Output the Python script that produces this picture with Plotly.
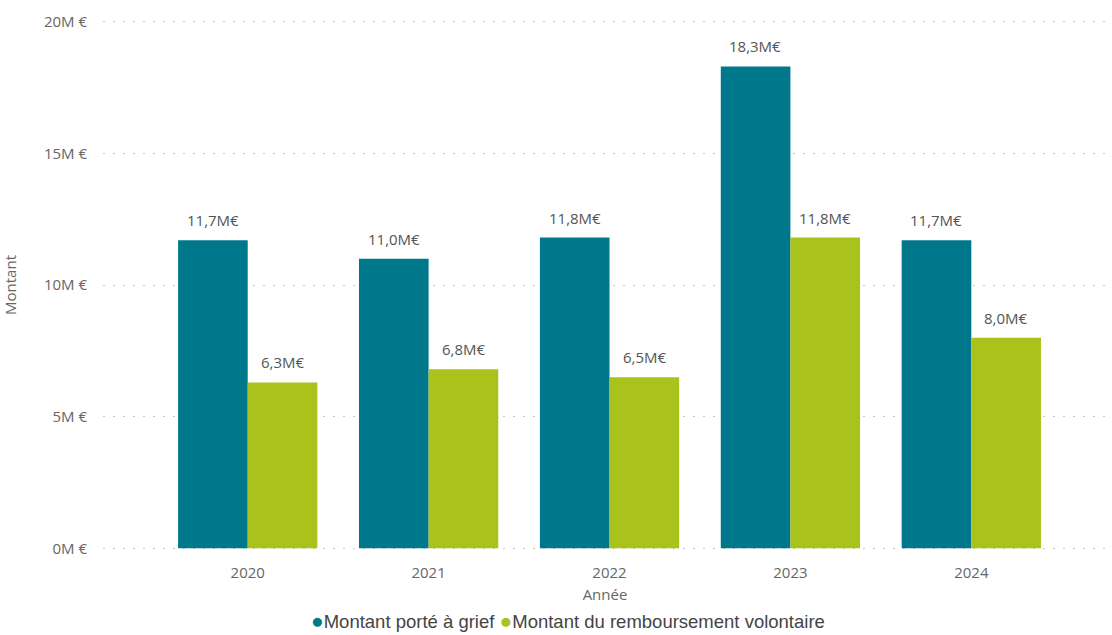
import plotly.graph_objects as go

annees = ["2020", "2021", "2022", "2023", "2024"]
grief = [11.7, 11.0, 11.8, 18.3, 11.7]
remboursement = [6.3, 6.8, 6.5, 11.8, 8.0]
noms = ["Montant porté à grief", "Montant du remboursement volontaire"]
couleurs = ["#00788C", "#AAC21C"]
ticks_y = [0, 5, 10, 15, 20]
ticks_y_txt = ["0M €", "5M €", "10M €", "15M €", "20M €"]

fig = go.Figure()
for nom, vals, c in zip(noms, [grief, remboursement], couleurs):
    fig.add_trace(go.Bar(
        x=annees, y=vals, name=nom, marker=dict(color=c, line=dict(width=0)),
        showlegend=False, hoverinfo="x+y",
    ))

# value labels above bars (category index on the x axis)
for vals, shift in [(grief, -35), (remboursement, 35)]:
    for i, v in enumerate(vals):
        fig.add_annotation(
            x=i, y=v, xref="x", yref="y", xshift=shift, yshift=8,
            text=f"{v:.1f}".replace(".", ",") + "M€", showarrow=False,
            yanchor="bottom", font=dict(family="Open Sans", size=15, color="#555555"),
        )

H, T, B = 635, 19, 84
ph = H - T - B
# legend as text line with coloured dots
leg = (f"<span style='color:{couleurs[0]};font-size:21px'>●</span>{noms[0]} "
       f"<span style='color:{couleurs[1]};font-size:21px'>●</span>{noms[1]}")
fig.add_annotation(
    x=(568 - 103) / 1004, y=-(620 - (H - B)) / ph, xref="paper", yref="paper",
    text=leg, showarrow=False, yanchor="middle", xanchor="center",
    font=dict(family="Liberation Sans, Arial", size=18.5, color="#444444"),
)

fig.update_layout(
    width=1112, height=H,
    margin=dict(l=103, r=5, t=T, b=B),
    paper_bgcolor="white", plot_bgcolor="white",
    barmode="group", bargap=0.23, bargroupgap=0,
    font=dict(family="Open Sans", color="#666666"),
    showlegend=False,
    xaxis=dict(
        type="category", range=[-0.8, 4.75],
        showgrid=False, showline=False, zeroline=False,
        ticks="outside", ticklen=8, tickcolor="rgba(0,0,0,0)",
        tickfont=dict(size=15, color="#666666"),
        title=dict(text="Année", font=dict(size=15, color="#666666"), standoff=8),
    ),
    yaxis=dict(
        range=[-0.1, 20.1], tickvals=ticks_y, ticktext=ticks_y_txt,
        showgrid=True, gridcolor="#C8C8C8", griddash="2px,8px", gridwidth=1,
        zeroline=False, showline=False,
        ticks="outside", ticklen=12, tickcolor="rgba(0,0,0,0)",
        tickfont=dict(size=15, color="#666666"),
        title=dict(text="Montant", font=dict(size=15, color="#666666"), standoff=24),
    ),
)

fig.write_html("out.html")
